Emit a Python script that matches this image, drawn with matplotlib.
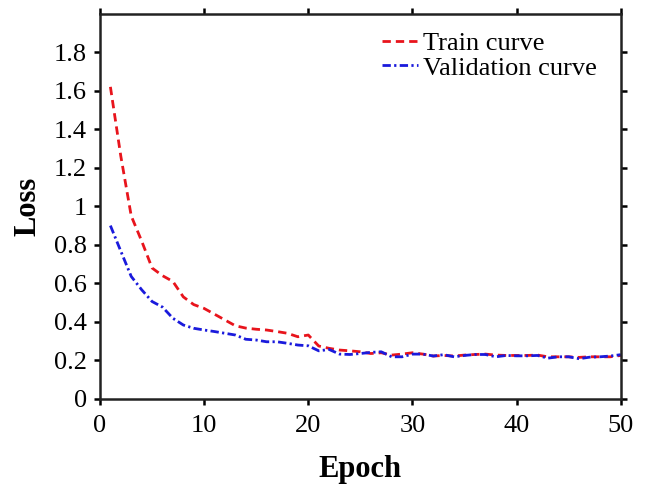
import matplotlib.pyplot as plt
import numpy as np

plt.rcParams['font.family'] = ['Liberation Serif', 'DejaVu Serif']

epochs = np.arange(1, 51)
train_loss = [1.62, 1.26, 0.95, 0.82, 0.68, 0.64, 0.61, 0.53, 0.49, 0.47,
              0.44, 0.41, 0.38, 0.368, 0.362, 0.358, 0.35, 0.341, 0.323, 0.332,
              0.275, 0.263, 0.254, 0.25, 0.245, 0.236, 0.24, 0.228, 0.233, 0.24,
              0.233, 0.223, 0.226, 0.223, 0.228, 0.231, 0.233, 0.228, 0.226, 0.226,
              0.226, 0.228, 0.219, 0.219, 0.219, 0.216, 0.219, 0.219, 0.219, 0.226]
val_loss = [0.90, 0.767, 0.636, 0.567, 0.506, 0.477, 0.419, 0.384, 0.367, 0.358,
            0.35, 0.341, 0.332, 0.31, 0.306, 0.297, 0.297, 0.289, 0.28, 0.276,
            0.25, 0.257, 0.233, 0.231, 0.236, 0.242, 0.245, 0.219, 0.219, 0.233,
            0.233, 0.223, 0.23, 0.219, 0.226, 0.231, 0.231, 0.219, 0.226, 0.224,
            0.224, 0.226, 0.212, 0.219, 0.219, 0.209, 0.217, 0.219, 0.223, 0.23]

x_ticks = [0, 10, 20, 30, 40, 50]
y_ticks = [0, 0.2, 0.4, 0.6, 0.8, 1, 1.2, 1.4, 1.6, 1.8]
y_labels = ['0', '0.2', '0.4', '0.6', '0.8', '1', '1.2', '1.4', '1.6', '1.8']

fig = plt.figure(figsize=(6.48, 4.87), dpi=100)
ax = fig.add_axes([0.1543, 0.1807, 0.8037, 0.7913])

ax.plot(epochs, train_loss, color='#e8141c', linestyle=(0, (3, 1.8)), linewidth=2.0,
        label='Train curve')
ax.plot(epochs, val_loss, color='#1a1adc', linestyle=(0, (3, 1.2, 0.8, 1.2)), linewidth=2.0,
        label='Validation curve')

ax.set_xlim(0, 50)
ax.set_ylim(0, 2)
ax.set_xticks(x_ticks)
ax.set_yticks(y_ticks)
ax.set_yticklabels(y_labels)
ax.tick_params(direction='out', length=4.3, width=1.8, labelsize=19,
               top=True, right=True)
ax.tick_params(axis='x', pad=7.5)
ax.tick_params(axis='y', pad=5)
for s in ax.spines.values():
    s.set_linewidth(1.8)
    s.set_color('#222222')

ax.set_xlabel('Epoch', fontsize=22, fontweight='bold', labelpad=12.5)
ax.set_ylabel('Loss', fontsize=22, fontweight='bold', labelpad=8)

ax.legend(loc='upper right', frameon=False, fontsize=19, handlelength=1.35,
          handletextpad=0.2, labelspacing=0.05, borderaxespad=0.2,
          bbox_to_anchor=(0.985, 0.995))

fig.savefig('out.png', dpi=100)
